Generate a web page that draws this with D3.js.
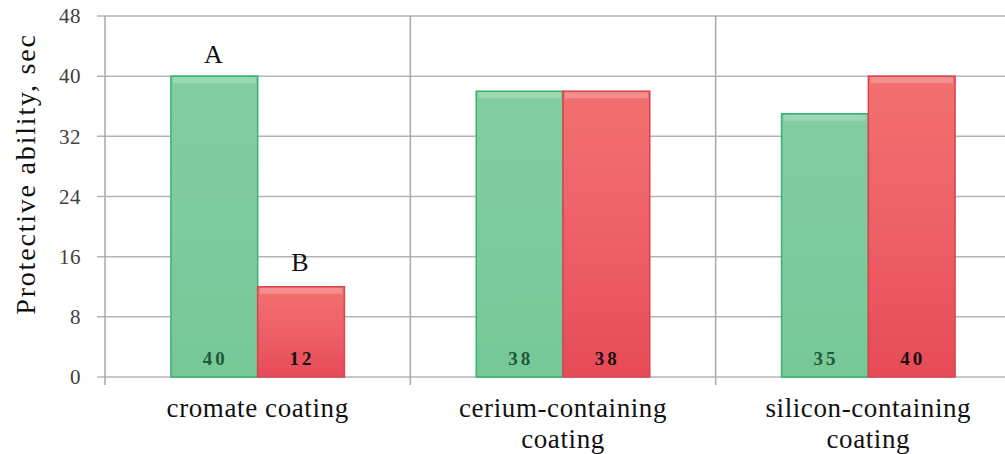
<!DOCTYPE html>
<html><head><meta charset="utf-8">
<script src="https://cdn.jsdelivr.net/npm/d3@7"></script>
<style>body{margin:0;background:#fff;}svg{display:block;} .sf{font-family:"Liberation Serif","DejaVu Serif","Times New Roman",Times,serif;}</style>
</head><body>
<svg id="c" width="1005" height="454"></svg>
<script>
const categories = [["cromate coating"], ["cerium-containing", "coating"], ["silicon-containing", "coating"]];
const seriesA = [40, 38, 35];
const seriesB = [12, 38, 40];
const yTicks = [0, 8, 16, 24, 32, 40, 48];
const markLabels = ["A", "B"];

const svg = d3.select("#c");
const W = 1005, H = 454;
const x0 = 105, x1 = 1021, yTop = 16, yBot = 377;

const x = d3.scaleBand().domain(d3.range(categories.length)).range([x0, x1]).paddingInner(0).paddingOuter(0);
const xs = d3.scaleBand().domain([0, 1]).range([0, x.bandwidth()]).paddingOuter(0.76).paddingInner(0);
const y = d3.scaleLinear().domain([0, 48]).range([yBot, yTop]);

const defs = svg.append("defs");
function grad(id, c1, c2, c3) {
  const g = defs.append("linearGradient").attr("id", id).attr("x1", 0).attr("y1", 0).attr("x2", 0).attr("y2", 1);
  g.append("stop").attr("offset", "0%").attr("stop-color", c1);
  g.append("stop").attr("offset", "50%").attr("stop-color", c2);
  g.append("stop").attr("offset", "100%").attr("stop-color", c3);
}
grad("gG", "#82cda0", "#7ecb9d", "#76c897");
grad("gR", "#f2706f", "#ee6067", "#e64b57");

// gridlines
svg.append("g").selectAll("line").data(yTicks).join("line")
  .attr("x1", x0 - 8).attr("x2", W).attr("y1", d => y(d)).attr("y2", d => y(d))
  .attr("stroke", "#b4b4b8").attr("stroke-width", 1.5);

// y axis
const ya = svg.append("g").attr("transform", `translate(${x0},0)`)
  .call(d3.axisLeft(y).tickValues(yTicks).tickSize(0).tickPadding(24));
ya.attr("font-family", null);
ya.select(".domain").remove();
ya.selectAll("text").attr("class", "sf").attr("font-size", 21).attr("letter-spacing", 0.5).attr("fill", "#404040");

// category separators
svg.append("g").selectAll("line").data(d3.range(categories.length)).join("line")
  .attr("x1", d => x(d)).attr("x2", d => x(d)).attr("y1", yTop).attr("y2", yBot + 8)
  .attr("stroke", "#a8a8ac").attr("stroke-width", 1.5);

// bars
const series = [seriesA, seriesB];
const fills = ["url(#gG)", "url(#gR)"];
const strokes = ["#2fb56c", "#d8434f"];
const labelCol = ["#1e5a3a", "#1a1010"];
series.forEach((s, si) => {
  const g = svg.append("g");
  g.selectAll("rect.b").data(s).join("rect").attr("class", "b")
    .attr("x", (d, i) => x(i) + xs(si)).attr("width", xs.bandwidth())
    .attr("y", d => y(d)).attr("height", d => yBot - y(d))
    .attr("fill", fills[si]).attr("stroke", strokes[si]).attr("stroke-width", 1.5);
  g.selectAll("rect.h").data(s).join("rect").attr("class", "h")
    .attr("x", (d, i) => x(i) + xs(si) + 2).attr("width", xs.bandwidth() - 4)
    .attr("y", d => y(d) + 1).attr("height", 6)
    .attr("fill", "#ffffff").attr("opacity", 0.22);
  g.selectAll("text").data(s).join("text").attr("class", "sf")
    .attr("x", (d, i) => x(i) + xs(si) + xs.bandwidth() / 2 + 1).attr("y", yBot - 12)
    .attr("text-anchor", "middle").attr("font-weight", "bold")
    .attr("font-size", 19).attr("letter-spacing", 3).attr("fill", labelCol[si])
    .text(d => d);
});

// A / B marks above first category bars
const markGap = [13, 16];
svg.append("g").selectAll("text").data(markLabels).join("text").attr("class", "sf")
  .attr("x", (d, i) => x(0) + xs(i) + xs.bandwidth() / 2 - 1)
  .attr("y", (d, i) => y(series[i][0]) - markGap[i])
  .attr("text-anchor", "middle").attr("font-size", 26).attr("fill", "#111")
  .text(d => d);

// category labels
categories.forEach((lines, i) => {
  const t = svg.append("text").attr("class", "sf").attr("x", x(i) + x.bandwidth() / 2).attr("y", 417)
    .attr("text-anchor", "middle").attr("font-size", 27).attr("letter-spacing", 0.6).attr("fill", "#111");
  lines.forEach((l, k) => t.append("tspan").attr("x", x(i) + x.bandwidth() / 2).attr("dy", k ? 31 : 0).text(l));
});

// y title
svg.append("text").attr("class", "sf").attr("transform", `translate(35,${174}) rotate(-90)`)
  .attr("text-anchor", "middle").attr("font-size", 28).attr("letter-spacing", 1.8).attr("fill", "#111")
  .text("Protective ability, sec");
</script>
</body></html>
